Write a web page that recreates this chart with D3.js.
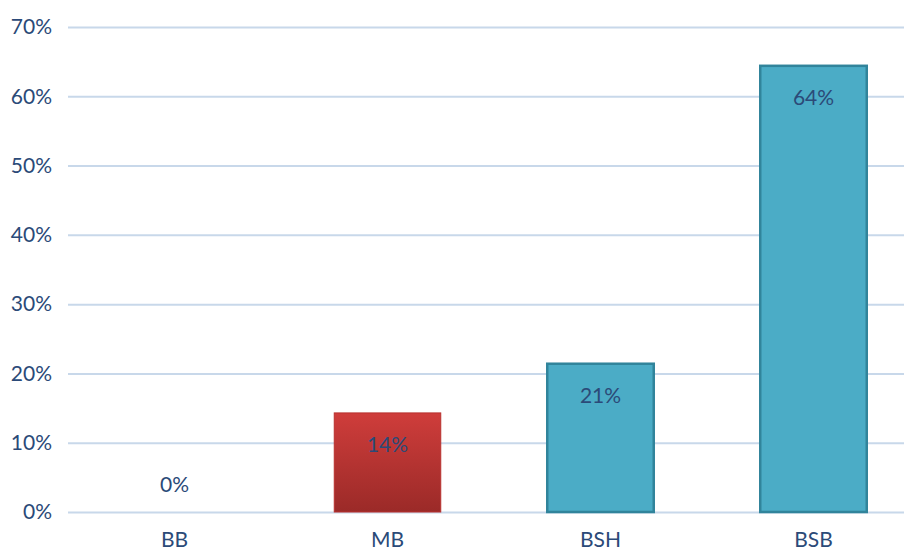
<!DOCTYPE html>
<html>
<head>
<meta charset="utf-8">
<script src="https://cdn.jsdelivr.net/npm/d3@7"></script>
<style>
  html, body { margin: 0; padding: 0; background: #ffffff; }
  svg { display: block; }
  text { font-family: Lato, "Open Sans", sans-serif; fill: #2b4a78; }
</style>
</head>
<body>
<svg id="chart" width="904" height="552"></svg>
<script>
// Share of each category
const categories = ["BB", "MB", "BSH", "BSB"];
const shares = [0, 0.143, 0.214, 0.644];
const yTicks = [0, 0.1, 0.2, 0.3, 0.4, 0.5, 0.6, 0.7];

const svg = d3.select("#chart");
const width = 904, height = 552;
const plotLeft = 68, plotTop = 27, plotBottom = 512;

const x = d3.scaleBand()
  .domain(categories)
  .range([plotLeft, 920])
  .paddingInner(0.5)
  .paddingOuter(0.25);

const y = d3.scaleLinear()
  .domain([0, 0.7])
  .range([plotBottom, plotTop]);

const defs = svg.append("defs");
const grad = defs.append("linearGradient")
  .attr("id", "redGrad")
  .attr("x1", 0).attr("y1", 0).attr("x2", 0).attr("y2", 1);
grad.append("stop").attr("offset", "0%").attr("stop-color", "#cf3d3b");
grad.append("stop").attr("offset", "100%").attr("stop-color", "#9b2a28");

// Gridlines and y-axis labels
const yAxis = d3.axisLeft(y)
  .tickValues(yTicks)
  .tickFormat(d3.format(".0%"))
  .tickSize(-(width - plotLeft))
  .tickPadding(16);

const gy = svg.append("g")
  .attr("transform", `translate(${plotLeft},0)`)
  .call(yAxis);
gy.select(".domain").remove();
gy.selectAll(".tick line").attr("stroke", "#c8d8ea").attr("stroke-width", 2);
gy.selectAll(".tick text")
  .attr("font-size", 21)
  .attr("fill", "#2b4a78")
  .style("font-family", "Lato, 'Open Sans', sans-serif");

// Category labels
const xAxis = d3.axisBottom(x).tickSize(0).tickPadding(20);
const gx = svg.append("g")
  .attr("transform", `translate(0,${plotBottom})`)
  .call(xAxis);
gx.select(".domain").remove();
gx.selectAll(".tick text")
  .attr("font-size", 21)
  .attr("fill", "#2b4a78")
  .style("font-family", "Lato, 'Open Sans', sans-serif");

// Bars
const data = categories.map((c, i) => ({ cat: c, v: shares[i] }));
svg.append("g").selectAll("rect")
  .data(data.filter(d => d.v > 0))
  .join("rect")
  .attr("x", d => x(d.cat))
  .attr("y", d => y(d.v))
  .attr("width", x.bandwidth())
  .attr("height", d => y(0) - y(d.v))
  .attr("fill", d => d.cat === "MB" ? "url(#redGrad)" : "#4bacc6")
  .attr("stroke", d => d.cat === "MB" ? "#b8302e" : "#31849b")
  .attr("stroke-width", d => d.cat === "MB" ? 1 : 2.5);

// Value labels
svg.append("g").selectAll("text")
  .data(data)
  .join("text")
  .attr("x", d => x(d.cat) + x.bandwidth() / 2)
  .attr("y", d => d.v > 0 ? y(d.v) + 31 : y(0) - 29)
  .attr("text-anchor", "middle")
  .attr("dominant-baseline", "central")
  .attr("font-size", 21)
  .attr("fill", "#2b4a78")
  .text(d => d3.format(".0%")(d.v));
</script>
</body>
</html>
